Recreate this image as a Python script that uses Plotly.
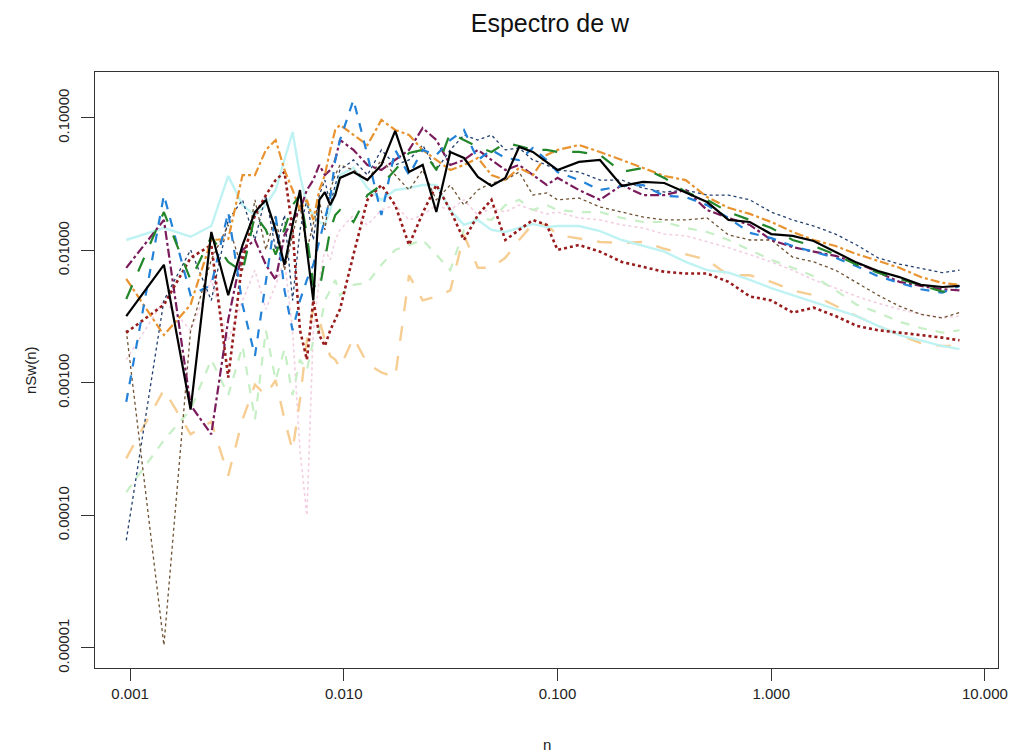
import plotly.graph_objects as go

# frequencies (n)
n = [0.00096, 0.00144, 0.00192, 0.0024, 0.00288, 0.00336, 0.00384, 0.00432, 0.0048, 0.00528,
     0.00576, 0.00624, 0.00672, 0.0072, 0.00768, 0.00816, 0.00864, 0.00912, 0.0096, 0.0111,
     0.0129, 0.015, 0.0174, 0.0202, 0.0234, 0.0271, 0.0315, 0.0365, 0.0424, 0.0491,
     0.057, 0.0661, 0.0767, 0.089, 0.1, 0.126, 0.158, 0.2, 0.251, 0.316,
     0.398, 0.501, 0.631, 0.794, 1.0, 1.26, 1.58, 2.0, 2.51, 3.16,
     3.98, 5.01, 6.31, 7.6]

s_black = [0.0032, 0.0078, 0.00063, 0.0138, 0.0046, 0.0110, 0.0195, 0.0241, 0.0143, 0.0078,
           0.0156, 0.0286, 0.0101, 0.0042, 0.0241, 0.0276, 0.0220, 0.0262, 0.0353, 0.0391,
           0.0340, 0.0442, 0.0800, 0.0391, 0.0442, 0.0195, 0.0554, 0.0499, 0.0359, 0.0307,
           0.0353, 0.0604, 0.0554, 0.0466, 0.0405, 0.0466, 0.0482, 0.0307, 0.0329, 0.0323,
           0.0272, 0.0232, 0.0170, 0.0164, 0.0133, 0.0129, 0.0118, 0.0098, 0.0081, 0.0070,
           0.0063, 0.0055, 0.0053, 0.0054]

s_green = [0.0043, 0.0195, 0.0060, 0.0127, 0.0082, 0.0069, 0.0185, 0.0143, 0.0093, 0.0143,
           0.0220, 0.0262, 0.0131, 0.0055, 0.0050, 0.0085, 0.0143, 0.0185, 0.0202, 0.0164,
           0.0262, 0.0312, 0.0405, 0.0545, 0.0574, 0.0405, 0.0771, 0.0682, 0.0604, 0.0554,
           0.0648, 0.0615, 0.0574, 0.0574, 0.0554, 0.0554, 0.0526, 0.0391, 0.0420, 0.0353,
           0.0276, 0.0241, 0.0195, 0.0170, 0.0148, 0.0120, 0.0108, 0.0093, 0.0078, 0.0068,
           0.0061, 0.0054, 0.0049, 0.0050]

s_blue = [0.00072, 0.0262, 0.0046, 0.0055, 0.0195, 0.0039, 0.0016, 0.0060, 0.0185, 0.0050,
          0.0025, 0.0042, 0.0060, 0.0078, 0.0116, 0.0170, 0.0249, 0.0482, 0.0682, 0.137,
          0.0526, 0.0185, 0.0574, 0.0371, 0.0574, 0.0526, 0.0682, 0.0812, 0.0482, 0.0574,
          0.0499, 0.0482, 0.0594, 0.0482, 0.0391, 0.0340, 0.0286, 0.0307, 0.0312, 0.0258,
          0.0253, 0.0220, 0.0176, 0.0136, 0.0124, 0.0108, 0.0098, 0.0088, 0.0076, 0.0064,
          0.0057, 0.0051, 0.0048, 0.0054]

s_orange = [0.0061, 0.0023, 0.0039, 0.0120, 0.0122, 0.0371, 0.0371, 0.0574, 0.0682, 0.0405,
            0.0286, 0.0202, 0.0241, 0.0170, 0.0286, 0.0371, 0.0574, 0.0812, 0.0886, 0.0744,
            0.0625, 0.0966, 0.0812, 0.0744, 0.0574, 0.0482, 0.0405, 0.0442, 0.0499, 0.0371,
            0.0340, 0.0420, 0.0371, 0.0526, 0.0574, 0.0625, 0.0554, 0.0482, 0.0420, 0.0365,
            0.0340, 0.0253, 0.0210, 0.0189, 0.0164, 0.0138, 0.0120, 0.0108, 0.0094, 0.0083,
            0.0074, 0.0063, 0.0057, 0.0055]

s_darkred = [0.0024, 0.0039, 0.0088, 0.0110, 0.0011, 0.0085, 0.0185, 0.0262, 0.0340, 0.0391,
             0.0143, 0.0025, 0.0015, 0.0042, 0.0023, 0.0019, 0.0025, 0.0030, 0.0036, 0.0093,
             0.0241, 0.0312, 0.0220, 0.0110, 0.0192, 0.0312, 0.0202, 0.0120, 0.0185, 0.0241,
             0.0120, 0.0143, 0.0170, 0.0156, 0.0101, 0.0110, 0.0098, 0.0082, 0.0075, 0.0069,
             0.0067, 0.0067, 0.0058, 0.0045, 0.0042, 0.0034, 0.0037, 0.0032, 0.0027, 0.0025,
             0.0024, 0.0023, 0.0022, 0.0021]

s_purple = [0.0074, 0.0170, 0.00068, 0.00041, 0.0030, 0.0101, 0.0120, 0.0078, 0.0060, 0.0131,
            0.0170, 0.0202, 0.0286, 0.0340, 0.0442, 0.0371, 0.0405, 0.0482, 0.0682, 0.0574,
            0.0442, 0.0405, 0.0482, 0.0574, 0.0840, 0.0682, 0.0442, 0.0482, 0.0574, 0.0482,
            0.0405, 0.0442, 0.0371, 0.0312, 0.0353, 0.0286, 0.0241, 0.0312, 0.0262, 0.0262,
            0.0286, 0.0202, 0.0176, 0.0156, 0.0120, 0.0106, 0.0098, 0.0091, 0.0081, 0.0069,
            0.0058, 0.0054, 0.0051, 0.0050]

s_brown = [0.0025, 0.0000105, 0.0025, 0.0085, 0.0156, 0.0071, 0.0241, 0.0101, 0.0185, 0.0071,
           0.0131, 0.0220, 0.0101, 0.0156, 0.0241, 0.0143, 0.0286, 0.0371, 0.0442, 0.0405,
           0.0340, 0.0482, 0.0371, 0.0286, 0.0405, 0.0241, 0.0312, 0.0220, 0.0286, 0.0323,
           0.0340, 0.0391, 0.0262, 0.0272, 0.0241, 0.0249, 0.0213, 0.0195, 0.0179, 0.0170,
           0.0170, 0.0176, 0.0131, 0.0120, 0.0120, 0.0089, 0.0082, 0.0071, 0.0057, 0.0046,
           0.0038, 0.0033, 0.0031, 0.0034]

s_navy = [0.000065, 0.0042, 0.0101, 0.0042, 0.0170, 0.0241, 0.0120, 0.0262, 0.0101, 0.0185,
          0.0042, 0.0143, 0.0241, 0.0120, 0.0262, 0.0340, 0.0220, 0.0312, 0.0405, 0.0482,
          0.0371, 0.0574, 0.0442, 0.0482, 0.0625, 0.0405, 0.0574, 0.0744, 0.0682, 0.0744,
          0.0574, 0.0594, 0.0482, 0.0442, 0.0405, 0.0391, 0.0340, 0.0340, 0.0296, 0.0276,
          0.0286, 0.0262, 0.0262, 0.0241, 0.0195, 0.0170, 0.0153, 0.0133, 0.0110, 0.0088,
          0.0079, 0.0073, 0.0068, 0.0071]

s_cyan = [0.0120, 0.0148, 0.0127, 0.0153, 0.0365, 0.0220, 0.0185, 0.0220, 0.0286, 0.0482,
          0.0784, 0.0371, 0.0220, 0.0185, 0.0164, 0.0156, 0.0202, 0.0286, 0.0371, 0.0420,
          0.0296, 0.0241, 0.0286, 0.0296, 0.0312, 0.0312, 0.0202, 0.0156, 0.0170, 0.0143,
          0.0138, 0.0148, 0.0158, 0.0150, 0.0153, 0.0153, 0.0140, 0.0120, 0.0108, 0.0098,
          0.0082, 0.0071, 0.0068, 0.0060, 0.0052, 0.0046, 0.0041, 0.0036, 0.0032, 0.0027,
          0.0023, 0.0021, 0.0019, 0.0018]

s_lightorange = [0.00027, 0.00089, 0.00041, 0.00051, 0.00020, 0.00053, 0.00097, 0.00081, 0.00105, 0.00053,
                 0.00031, 0.00075, 0.0021, 0.0036, 0.0030, 0.0021, 0.0016, 0.0015, 0.0013, 0.0022,
                 0.0014, 0.0012, 0.0011, 0.0065, 0.0042, 0.0045, 0.0050, 0.0131, 0.0074, 0.0074,
                 0.0088, 0.0120, 0.0158, 0.0156, 0.0131, 0.0124, 0.0116, 0.0114, 0.0116, 0.0103,
                 0.0093, 0.0085, 0.0065, 0.0065, 0.0058, 0.0050, 0.0046, 0.0038, 0.0032, 0.0027,
                 0.0023, 0.0020, 0.0019, 0.0019]

s_palegreen = [0.00015, 0.00037, 0.00063, 0.0015, 0.00081, 0.0019, 0.00053, 0.0025, 0.00105, 0.0018,
               0.00081, 0.0015, 0.00125, 0.0021, 0.0025, 0.0042, 0.0050, 0.0060, 0.0046, 0.0055,
               0.0057, 0.0078, 0.0101, 0.0110, 0.0120, 0.0093, 0.0071, 0.0143, 0.0176, 0.0170,
               0.0220, 0.0241, 0.0202, 0.0220, 0.0202, 0.0195, 0.0195, 0.0176, 0.0164, 0.0164,
               0.0148, 0.0138, 0.0120, 0.0101, 0.0085, 0.0074, 0.0064, 0.0050, 0.0039, 0.0034,
               0.0029, 0.0026, 0.0024, 0.0025]

s_pink = [0.0015, 0.0042, 0.0025, 0.0060, 0.0021, 0.0042, 0.0071, 0.0036, 0.0055, 0.0085,
          0.0025, 0.00031, 0.00010, 0.0025, 0.0060, 0.0101, 0.0085, 0.0120, 0.0143, 0.0185,
          0.0156, 0.0202, 0.0220, 0.0170, 0.0185, 0.0220, 0.0202, 0.0241, 0.0185, 0.0210,
          0.0195, 0.0220, 0.0202, 0.0189, 0.0195, 0.0176, 0.0170, 0.0156, 0.0148, 0.0133,
          0.0129, 0.0116, 0.0105, 0.0093, 0.0082, 0.0071, 0.0060, 0.0052, 0.0045, 0.0040,
          0.0036, 0.0033, 0.0031, 0.0032]

x_tickvals = [0.001, 0.01, 0.1, 1, 10]
x_ticktext = ["0.001", "0.010", "0.100", "1.000", "10.000"]
y_tickvals = [0.00001, 0.0001, 0.001, 0.01, 0.1]
y_ticktext = ["0.00001", "0.00010", "0.00100", "0.01000", "0.10000"]

series = [
    ("pink", s_pink, "#F2CFE2", "dot", 1.6),
    ("palegreen", s_palegreen, "#C6EFC6", "dash", 2.2),
    ("lightorange", s_lightorange, "#F6CD92", "longdash", 2.4),
    ("cyan", s_cyan, "#BFF3F3", "solid", 2.4),
    ("navy", s_navy, "#24406E", "dot", 1.3),
    ("brown", s_brown, "#6E5233", "dot", 1.3),
    ("purple", s_purple, "#7A1C5C", "dashdot", 2.2),
    ("darkred", s_darkred, "#981C1C", "dot", 2.6),
    ("orange", s_orange, "#E8932F", "dashdot", 2.2),
    ("blue", s_blue, "#2281D8", "dash", 2.2),
    ("green", s_green, "#22862A", "longdash", 2.2),
    ("black", s_black, "#000000", "solid", 2.2),
]

fig = go.Figure()
for name, ys, col, dash, w in series:
    fig.add_trace(go.Scatter(x=n, y=ys, mode="lines", name=name,
                             line=dict(color=col, dash=dash, width=w),
                             showlegend=False))

axis_font = dict(family="Liberation Sans, Arial, sans-serif", size=15, color="#222")
fig.update_layout(
    width=1014, height=748,
    paper_bgcolor="white", plot_bgcolor="white",
    margin=dict(l=87, r=24, t=64, b=88),
    title=dict(text="Espectro de w", x=0.5345, xanchor="center", y=0.979, yanchor="middle",
               font=dict(family="Liberation Sans, Arial, sans-serif", size=25, color="#111")),
    font=axis_font,
    annotations=[
        dict(text="n", xref="paper", yref="paper", x=0.5, y=-0.129,
             xanchor="center", yanchor="middle", showarrow=False, font=axis_font),
        dict(text="nSw(n)", xref="paper", yref="paper", x=-0.072, y=0.5, textangle=-90,
             xanchor="center", yanchor="middle", showarrow=False, font=axis_font),
    ],
)
fig.update_xaxes(type="log", range=[-3.164, 1.061],
                 tickvals=x_tickvals, ticktext=x_ticktext,
                 ticks="outside", ticklen=12, tickcolor="#333", tickwidth=1,
                 showline=True, linecolor="#333", linewidth=1.2, mirror=True,
                 showgrid=False, zeroline=False, tickfont=axis_font)
fig.update_yaxes(type="log", range=[-5.151, -0.653],
                 tickvals=y_tickvals, ticktext=y_ticktext, tickangle=-90,
                 ticks="outside", ticklen=13, tickcolor="#333", tickwidth=1,
                 ticklabelstandoff=6,
                 showline=True, linecolor="#333", linewidth=1.2, mirror=True,
                 showgrid=False, zeroline=False, tickfont=axis_font)

fig.write_html("out.html")
